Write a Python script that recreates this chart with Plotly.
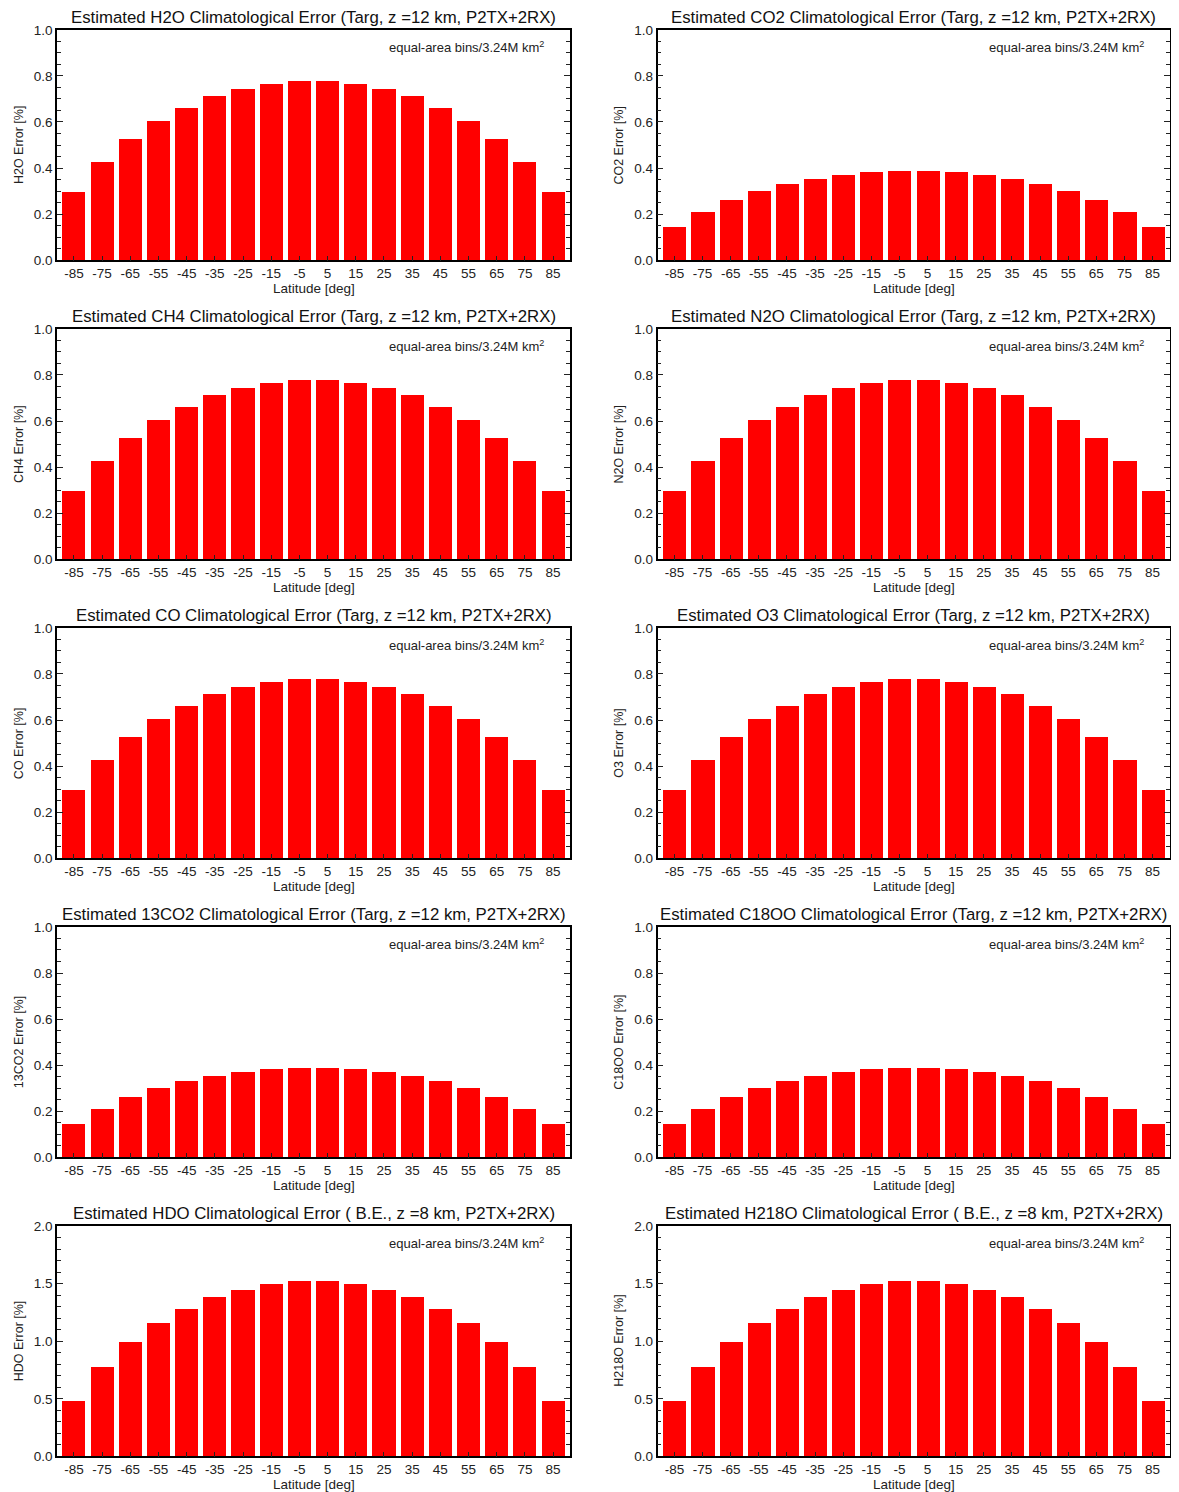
import plotly.graph_objects as go

latitudes = [-85, -75, -65, -55, -45, -35, -25, -15, -5, 5, 15, 25, 35, 45, 55, 65, 75, 85]
lat_labels = ["-85", "-75", "-65", "-55", "-45", "-35", "-25", "-15", "-5", "5", "15", "25", "35", "45", "55", "65", "75", "85"]

h2o_err = [0.296, 0.429, 0.529, 0.607, 0.663, 0.715, 0.746, 0.767, 0.780, 0.780, 0.767, 0.746, 0.715, 0.663, 0.607, 0.529, 0.429, 0.296]
co2_err = [0.146, 0.211, 0.263, 0.302, 0.330, 0.354, 0.372, 0.385, 0.389, 0.389, 0.385, 0.372, 0.354, 0.330, 0.302, 0.263, 0.211, 0.146]
ch4_err = [0.296, 0.429, 0.529, 0.607, 0.663, 0.715, 0.746, 0.767, 0.780, 0.780, 0.767, 0.746, 0.715, 0.663, 0.607, 0.529, 0.429, 0.296]
n2o_err = [0.296, 0.429, 0.529, 0.607, 0.663, 0.715, 0.746, 0.767, 0.780, 0.780, 0.767, 0.746, 0.715, 0.663, 0.607, 0.529, 0.429, 0.296]
co_err = [0.296, 0.429, 0.529, 0.607, 0.663, 0.715, 0.746, 0.767, 0.780, 0.780, 0.767, 0.746, 0.715, 0.663, 0.607, 0.529, 0.429, 0.296]
o3_err = [0.296, 0.429, 0.529, 0.607, 0.663, 0.715, 0.746, 0.767, 0.780, 0.780, 0.767, 0.746, 0.715, 0.663, 0.607, 0.529, 0.429, 0.296]
c13o2_err = [0.145, 0.210, 0.262, 0.301, 0.331, 0.353, 0.371, 0.384, 0.388, 0.388, 0.384, 0.371, 0.353, 0.331, 0.301, 0.262, 0.210, 0.145]
c18oo_err = [0.145, 0.210, 0.262, 0.301, 0.331, 0.353, 0.371, 0.384, 0.388, 0.388, 0.384, 0.371, 0.353, 0.331, 0.301, 0.262, 0.210, 0.145]
hdo_err = [0.485, 0.781, 0.996, 1.160, 1.282, 1.385, 1.445, 1.497, 1.522, 1.522, 1.497, 1.445, 1.385, 1.282, 1.160, 0.996, 0.781, 0.485]
h218o_err = [0.485, 0.781, 0.996, 1.160, 1.282, 1.385, 1.445, 1.497, 1.522, 1.522, 1.497, 1.445, 1.385, 1.282, 1.160, 0.996, 0.781, 0.485]

panel_titles = [
    "Estimated H2O Climatological Error (Targ, z =12 km, P2TX+2RX)",
    "Estimated CO2 Climatological Error (Targ, z =12 km, P2TX+2RX)",
    "Estimated CH4 Climatological Error (Targ, z =12 km, P2TX+2RX)",
    "Estimated N2O Climatological Error (Targ, z =12 km, P2TX+2RX)",
    "Estimated CO Climatological Error (Targ, z =12 km, P2TX+2RX)",
    "Estimated O3 Climatological Error (Targ, z =12 km, P2TX+2RX)",
    "Estimated 13CO2 Climatological Error (Targ, z =12 km, P2TX+2RX)",
    "Estimated C18OO Climatological Error (Targ, z =12 km, P2TX+2RX)",
    "Estimated HDO Climatological Error ( B.E., z =8 km, P2TX+2RX)",
    "Estimated H218O Climatological Error ( B.E., z =8 km, P2TX+2RX)",
]
y_titles = ["H2O Error [%]", "CO2 Error [%]", "CH4 Error [%]", "N2O Error [%]", "CO Error [%]",
            "O3 Error [%]", "13CO2 Error [%]", "C18OO Error [%]", "HDO Error [%]", "H218O Error [%]"]
series = [h2o_err, co2_err, ch4_err, n2o_err, co_err, o3_err, c13o2_err, c18oo_err, hdo_err, h218o_err]
y_max = [1.0] * 8 + [2.0, 2.0]
y_major = [0.2] * 8 + [0.5, 0.5]
y_minor = [0.05] * 8 + [0.1, 0.1]
x_title = "Latitude [deg]"
note_text = "equal-area bins/3.24M km<sup>2</sup>"

# mapping from target screen pixels to figure pixels (page offset / capture scale)
OFFX = 8
SY, OFFY = 0.9898, 14.87
W, H = 1163, 1492
FONT = "Liberation Sans, Arial, Helvetica, sans-serif"
col_px = [(57, 570), (657.5, 1169.5)]
row_top0, row_bot0, row_step = 29.5, 260.0, 299.0


def px_x(v):
    return min(1.0, max(0.0, (v - OFFX) / W))


def px_y(v):
    return min(1.0, max(0.0, 1 - (v / SY - OFFY) / H))


fig = go.Figure()
annotations = []
for i in range(10):
    r, c = divmod(i, 2)
    x0, x1 = col_px[c]
    top = row_top0 + r * row_step
    bot = row_bot0 + r * row_step
    ax = "" if i == 0 else str(i + 1)
    fig.add_trace(go.Bar(
        x=latitudes, y=series[i], width=8.2,
        marker=dict(color="#FF0000", line=dict(width=0)),
        xaxis="x" + ax, yaxis="y" + ax, showlegend=False,
    ))
    fig.update_layout({
        "xaxis" + ax: dict(
            domain=[px_x(x0), px_x(x1)], anchor="y" + ax, range=[-91, 91],
            tickmode="array", tickvals=latitudes, ticktext=lat_labels,
            ticks="inside", ticklen=5, tickwidth=1.2, tickcolor="#222",
            showline=True, linecolor="black", linewidth=1.6, mirror=True,
            showgrid=False, zeroline=False, fixedrange=True,
            tickfont=dict(family=FONT, size=13.5, color="#222"),
            layer="above traces",
        ),
        "yaxis" + ax: dict(
            domain=[px_y(bot), px_y(top)], anchor="x" + ax, range=[0, y_max[i]],
            tickmode="linear", tick0=0, dtick=y_major[i], tickformat=".1f",
            ticks="inside", ticklen=6, tickwidth=1.2, tickcolor="#222",
            minor=dict(dtick=y_minor[i], tick0=0, ticks="inside", ticklen=4, tickwidth=1.0, tickcolor="#222", showgrid=False),
            showline=True, linecolor="black", linewidth=1.6, mirror="ticks",
            showgrid=False, zeroline=False, fixedrange=True,
            tickfont=dict(family=FONT, size=13.5, color="#222"),
            layer="above traces",
        ),
    })
    xc = (x0 + x1) / 2
    annotations.append(dict(text=panel_titles[i], x=px_x(xc), y=px_y(top - 12),
                            xref="paper", yref="paper", xanchor="center", yanchor="middle",
                            showarrow=False, font=dict(family=FONT, size=16.8, color="#111")))
    annotations.append(dict(text=x_title, x=px_x(xc), y=px_y(bot + 28.5),
                            xref="paper", yref="paper", xanchor="center", yanchor="middle",
                            showarrow=False, font=dict(family=FONT, size=13.5, color="#222")))
    annotations.append(dict(text=y_titles[i], x=px_x(x0 - 38), y=px_y((top + bot) / 2),
                            xref="paper", yref="paper", xanchor="center", yanchor="middle",
                            textangle=-90, showarrow=False, font=dict(family=FONT, size=12.5, color="#222")))
    annotations.append(dict(text=note_text, x=px_x(x1 - 24), y=px_y(top + 17),
                            xref="paper", yref="paper", xanchor="right", yanchor="middle",
                            showarrow=False, font=dict(family=FONT, size=13, color="#222")))

fig.update_layout(
    width=W, height=H, margin=dict(l=0, r=0, t=0, b=0),
    paper_bgcolor="white", plot_bgcolor="white",
    bargap=0, annotations=annotations,
    font=dict(family=FONT),
)
fig.write_html("out.html")
